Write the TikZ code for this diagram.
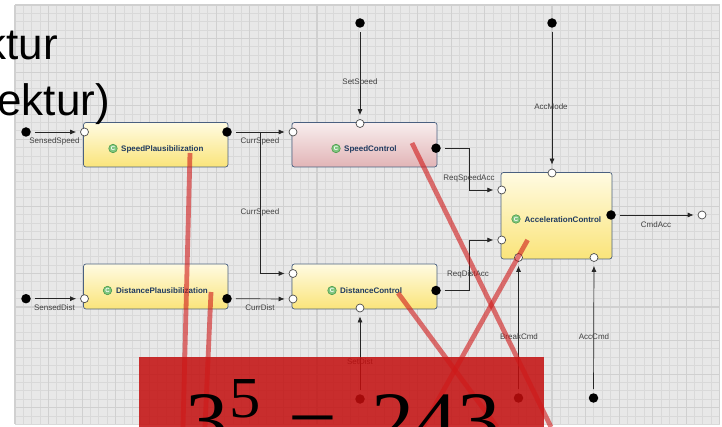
\documentclass[tikz,border=0pt]{standalone}
\usepackage{fontspec}
\setmainfont{Liberation Sans}
\newfontfamily\formulafont[FakeStretch=1.08]{Liberation Serif}
\usetikzlibrary{arrows.meta}
\definecolor{gridbg}{HTML}{E8E8E8}
\definecolor{gridminor}{HTML}{D9D9D9}
\definecolor{gridmajor}{HTML}{D0D0D0}
\definecolor{boxedge}{HTML}{4A6080}
\definecolor{yellowtop}{HTML}{FFFBE2}
\definecolor{yellowbot}{HTML}{FAE47A}
\definecolor{redtop}{HTML}{F8EEEE}
\definecolor{redbot}{HTML}{E2B4B6}
\definecolor{namecol}{HTML}{1F3A5F}
\definecolor{slidered}{HTML}{C30D0D}
\definecolor{strike}{HTML}{D01818}
\tikzset{
  x=1pt,y=-1pt,
  comp/.style={draw=boxedge,line width=.7pt,rounded corners=2.5pt,inner sep=0pt},
  yellowcomp/.style={comp,top color=yellowtop,bottom color=yellowbot},
  redcomp/.style={comp,top color=redtop,bottom color=redbot},
  inport/.style={circle,draw=black!70,fill=white,line width=.7pt,minimum size=8pt,inner sep=0pt},
  outport/.style={circle,fill=black,minimum size=9.5pt,inner sep=0pt},
  wire/.style={draw=black!85,line width=.7pt,-{Latex[length=6pt,width=5pt]}},
  wirelabel/.style={font=\fontsize{8}{9}\selectfont,text=black!75,inner sep=0pt},
  compname/.style={font=\bfseries\fontsize{8}{9}\selectfont,text=namecol,inner sep=0pt},
  ctag/.style={circle,draw=green!45!black!70,fill=green!55!black!50,line width=.6pt,minimum size=8.5pt,inner sep=0pt,font=\bfseries\fontsize{6}{6}\selectfont,text=white},
  strikeline/.style={draw=strike,opacity=.6,line width=4.8pt},
  bigtitle/.style={font=\fontsize{44}{44}\selectfont,text=black,inner sep=0pt,anchor=base east},
}
\begin{document}
\begin{tikzpicture}
\useasboundingbox (0,0) rectangle (722,427);
\begin{scope}
\clip (0,0) rectangle (722,427);
\fill[white] (0,0) rectangle (722,427);
\fill[gridbg] (15,5) rectangle (720,424);
\foreach \i in {0,...,84} {\draw[gridminor,line width=1pt] ({15+8.39*\i},5) -- ({15+8.39*\i},424);}
\foreach \i in {0,...,50} {\draw[gridminor,line width=1pt] (15,{5+8.39*\i}) -- (720,{5+8.39*\i});}
\foreach \i in {0,...,21} {\draw[gridmajor,line width=1.1pt] ({15+33.56*\i},5) -- ({15+33.56*\i},424);}
\foreach \i in {0,...,12} {\draw[gridmajor,line width=1.1pt] (15,{5+33.56*\i}) -- (720,{5+33.56*\i});}

% components
\path[yellowcomp] (83.5,122.5) rectangle (228,167);
\path[yellowcomp] (83.5,264) rectangle (228,309);
\path[redcomp] (292,122.5) rectangle (437,167);
\path[yellowcomp] (292,264) rectangle (437,309);
\path[yellowcomp] (501,172.5) rectangle (612,259);

\node[ctag] (tagA) at (113,148.5) {C};
\node[compname,anchor=west] (nameA) at (121,149) {SpeedPlausibilization};
\node[ctag] (tagB) at (107.5,290.5) {C};
\node[compname,anchor=west] (nameB) at (116,291) {DistancePlausibilization};
\node[ctag] (tagC) at (336,148.5) {C};
\node[compname,anchor=west] (nameC) at (344,149) {SpeedControl};
\node[ctag] (tagD) at (332,290.5) {C};
\node[compname,anchor=west] (nameD) at (340,291) {DistanceControl};
\node[ctag] (tagE) at (516,219) {C};
\node[compname,anchor=west] (nameE) at (524.5,220) {AccelerationControl};

% ports
\node[outport] (pSensedSpeed) at (26,132) {};
\node[inport] (pSpIn) at (84.5,132) {};
\node[outport] (pSpOut) at (227,132) {};
\node[inport] (pScIn) at (293,132) {};
\node[outport] (pSensedDist) at (26,298.7) {};
\node[inport] (pDpIn) at (84.5,298.7) {};
\node[outport] (pDpOut) at (227,298.7) {};
\node[inport] (pDcIn) at (293,299) {};
\node[inport] (pDcIn2) at (293,273.5) {};
\node[outport] (pSetSpeed) at (360,23) {};
\node[inport] (pScTop) at (360,123.5) {};
\node[outport] (pScOut) at (436,148.2) {};
\node[outport] (pDcOut) at (436,290.5) {};
\node[inport] (pAc1) at (501.7,190) {};
\node[inport] (pAc2) at (501.7,240) {};
\node[inport] (pAcTop) at (552,173) {};
\node[outport] (pAccMode) at (552,23) {};
\node[outport] (pAcOut) at (611,215) {};
\node[inport] (pCmd) at (702,215) {};
\node[inport] (pAcB1) at (518.5,257.5) {};
\node[inport] (pAcB2) at (594,257.5) {};
\node[outport] (pBreak) at (518.5,398) {};
\node[outport] (pAccCmd) at (593.5,398) {};
\node[outport] (pSetDist) at (360,399) {};
\node[inport] (pDcB) at (360,308) {};

% connectors
\begin{scope}[shorten >=4pt,shorten <=4pt]
\draw[wire] (pSensedSpeed) -- (pSpIn);
\draw[wire] (pSpOut) -- (pScIn);
\draw[wire] (pSensedDist) -- (pDpIn);
\draw[wire] (pDpOut) -- (pDcIn);
\draw[wire] (pSetSpeed) -- (pScTop);
\draw[wire] (pAccMode) -- (pAcTop);
\draw[wire] (pAcOut) -- (pCmd);
\draw[wire] (pBreak) -- (pAcB1);
\draw[wire] (pAccCmd) -- (pAcB2);
\draw[wire] (pSetDist) -- (pDcB);
\draw[wire] (pScOut) -- (469,148.2) -- (469,190) -- (pAc1);
\draw[wire] (pDcOut) -- (469,290.5) -- (469,240) -- (pAc2);
\end{scope}
\coordinate (branch) at (260,132);
\draw[wire,shorten >=4pt] (branch) -- (260,273.5) -- (pDcIn2);

% labels
\node[wirelabel] (lA) at (54.5,141) {SensedSpeed};
\node[wirelabel] (lB) at (260,141) {CurrSpeed};
\node[wirelabel] (lC) at (260,212) {CurrSpeed};
\node[wirelabel] (lD) at (54.5,308) {SensedDist};
\node[wirelabel] (lE) at (260,308) {CurrDist};
\node[wirelabel] (lF) at (360,82) {SetSpeed};
\node[wirelabel] (lG) at (469,178) {ReqSpeedAcc};
\node[wirelabel] (lH) at (468,274.5) {ReqDistAcc};
\node[wirelabel] (lI) at (551,107) {AccMode};
\node[wirelabel] (lJ) at (656,225) {CmdAcc};
\node[wirelabel] (lK) at (519,337) {BreakCmd};
\node[wirelabel] (lL) at (594,337) {AccCmd};
\node[wirelabel] (lM) at (360,362) {SetDist};

% slide overlay
\fill[slidered,opacity=.85] (139,357) rectangle (544,427);
\coordinate (s1a) at (190,153); \coordinate (s1b) at (183,427);
\coordinate (s2a) at (211,292); \coordinate (s2b) at (205,427);
\coordinate (s3a) at (412,143); \coordinate (s3b) at (551,427);
\coordinate (s4a) at (398,293); \coordinate (s4b) at (497,427);
\coordinate (s5a) at (527.6,240); \coordinate (s5b) at (423,427);
\draw[strikeline] (s1a) -- (s1b);
\draw[strikeline] (s2a) -- (s2b);
\draw[strikeline] (s3a) -- (s3b);
\draw[strikeline] (s4a) -- (s4b);
\draw[strikeline] (s5a) -- (s5b);
\node[inner sep=0pt,anchor=base west,font=\formulafont\fontsize{80}{80}\selectfont] (formula) at (185,447) {3\hspace{1pt}\raisebox{30pt}{\fontsize{58}{58}\selectfont 5}\hspace{28pt}\raisebox{3pt}{−}\hspace{34pt}243};

% slide title fragments
\node[bigtitle] (t1) at (58,60) {ktur};
\node[bigtitle] (t2) at (110,116) {ektur)};
\end{scope}
\end{tikzpicture}
\end{document}
